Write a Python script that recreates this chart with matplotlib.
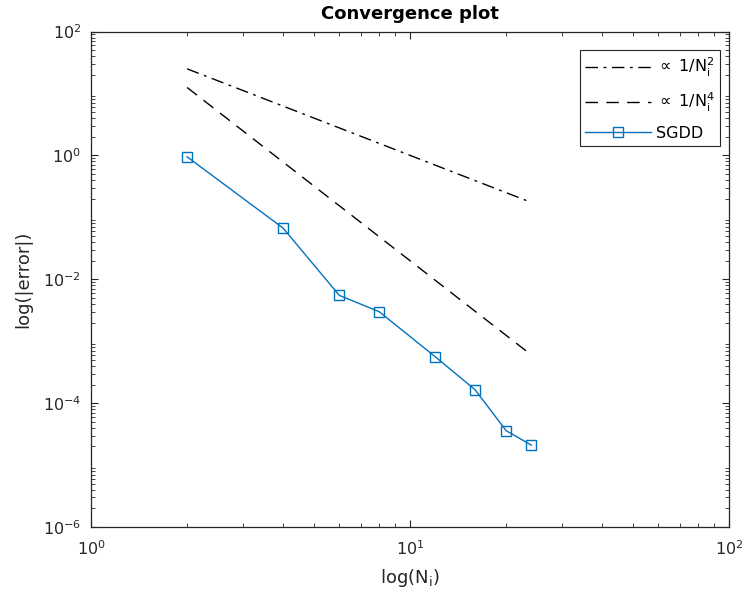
import matplotlib
matplotlib.use('Agg')
import matplotlib.pyplot as plt

# SGDD error vs N_i
n_vals = [2, 4, 6, 8, 12, 16, 20, 24]
err_vals = [0.95, 0.067, 0.0055, 0.0030, 5.6e-4, 1.64e-4, 3.6e-5, 2.1e-5]

# reference slopes, end points only (straight on log-log)
ref_n = [2, 24]
ref2_err = [25.0, 0.174]
ref4_err = [12.5, 6.0e-4]

label_color = '#262626'

fig = plt.figure(figsize=(7.48, 6.03), dpi=100)
ax = fig.add_axes([0.1217, 0.126, 0.853, 0.8217])

ax.plot(ref_n, ref2_err, color='black', lw=1.0, dashes=(9, 4, 2, 4),
        label=r'$\propto$ 1/N$_\mathregular{i}^\mathregular{2}$')
ax.plot(ref_n, ref4_err, color='black', lw=1.0, dashes=(9, 6),
        label=r'$\propto$ 1/N$_\mathregular{i}^\mathregular{4}$')
ax.plot(n_vals, err_vals, color='#0072BD', lw=1.0, marker='s', ms=6.8,
        mfc='none', mec='#0072BD', mew=1.0, label='SGDD')

ax.set_xscale('log')
ax.set_yscale('log')
ax.set_xlim(1, 100)
ax.set_ylim(1e-6, 1e2)
ax.set_yticks([1e-6, 1e-4, 1e-2, 1e0, 1e2])
ax.set_xticks([1, 10, 100])

ax.tick_params(which='both', direction='in', top=True, right=True,
               colors=label_color, labelsize=11.5)
ax.tick_params(which='major', length=5, width=0.8)
ax.tick_params(which='minor', length=3, width=0.6)
ax.tick_params(axis='y', which='major', pad=7)
ax.tick_params(axis='x', which='major', pad=9)
for s in ax.spines.values():
    s.set_color(label_color)
    s.set_linewidth(0.9)

ax.set_xlabel(r'log(N$_\mathregular{i}$)', fontsize=13, color=label_color,
              labelpad=6)
ax.set_ylabel('log(|error|)', fontsize=13, color=label_color, labelpad=8)
ax.set_title('Convergence plot', fontsize=13, fontweight='bold', pad=9)

leg = ax.legend(loc='upper right', fontsize=11.5, handlelength=4.1,
                handletextpad=0.3, borderpad=0.35, labelspacing=0.75,
                borderaxespad=0, fancybox=False, edgecolor=label_color,
                framealpha=1, bbox_to_anchor=(0.986, 0.963))
leg.get_frame().set_linewidth(0.8)

fig.savefig('out.png', dpi=100)
